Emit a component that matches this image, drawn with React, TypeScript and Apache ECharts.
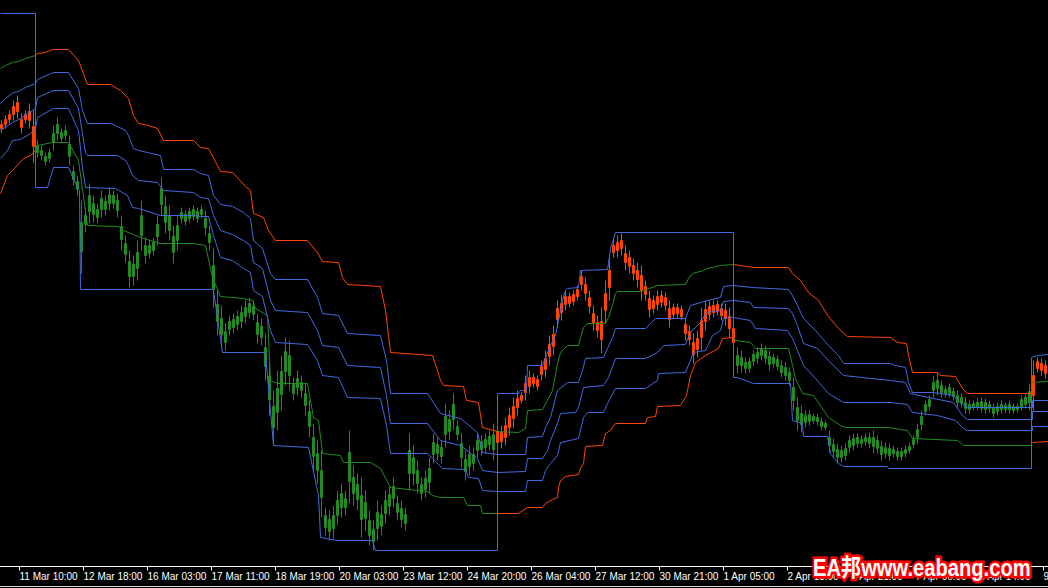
import React, { useEffect, useRef } from "react";
import * as echarts from "echarts";

const ORANGE = "#FF4500";
const GREEN = "#228B22";
const BLUE = "#4169E1";

// x unit: half-hour slot counted from the chart's left edge
const tickSlots = [19, 83, 147, 211, 275, 339, 403, 467, 531, 595, 659, 723, 787, 851, 915, 979, 1043];
const tickLabels = [
  "11 Mar 10:00", "12 Mar 18:00", "16 Mar 03:00", "17 Mar 11:00", "18 Mar 19:00",
  "20 Mar 03:00", "23 Mar 12:00", "24 Mar 20:00", "26 Mar 04:00", "27 Mar 12:00",
  "30 Mar 21:00", "1 Apr 05:00", "2 Apr 13:00", "3 Apr 21:00", "7 Apr 06:00",
  "8 Apr 14:00", "9 Apr 22:00",
];

const firstBarSlot = 1;
const slotsPerBar = 4;

// [open, close, low, high] in points
const bars = [
  [438,442,434,446],[442,447,438,451],[447,452,443,456],[452,460,446,466],[464,455,448,471],
  [439,447,433,453],[447,452,443,456],[455,446,438,463],[440,420,404,456],[421,414,409,426],
  [416,411,406,421],[405,410,401,414],[408,414,404,418],[424,433,416,441],[442,433,426,449],
  [428,434,424,438],[436,431,426,441],[422,410,401,431],[395,387,381,401],[385,377,371,391],
  [344,315,293,366],[342,351,334,359],[371,355,343,383],[363,352,344,371],[349,357,343,363],
  [368,357,349,376],[357,365,351,371],[372,363,356,379],[371,363,358,376],[366,356,349,373],
  [340,327,316,351],[323,312,304,331],[290,305,279,316],[290,302,281,311],[298,314,286,326],
  [351,331,316,366],[311,321,303,329],[313,321,308,326],[316,324,311,329],[330,342,321,351],
  [378,362,351,389],[360,344,333,371],[351,336,326,361],[314,330,303,341],[326,341,316,351],
  [354,348,343,359],[345,352,341,356],[348,355,344,359],[357,350,346,361],[348,355,344,359],
  [357,352,348,361],[348,339,331,356],[333,324,316,341],[301,277,259,319],[262,245,231,276],
  [248,232,219,261],[224,235,216,243],[237,245,231,251],[239,247,233,253],[242,250,236,256],
  [245,254,238,261],[250,259,243,266],[263,254,248,269],[260,252,246,266],[244,232,223,253],
  [240,229,221,248],[219,200,186,233],[190,167,151,206],[139,160,123,176],[154,178,136,196],
  [172,195,156,211],[215,195,181,229],[211,191,176,226],[173,182,166,189],[188,179,171,196],
  [184,176,169,191],[173,161,151,183],[155,140,129,166],[129,110,96,143],[113,96,83,126],
  [96,69,49,116],[51,39,31,59],[35,47,26,56],[38,51,28,61],[51,66,41,76],
  [73,59,49,83],[59,68,51,76],[114,85,63,136],[89,73,61,101],[82,67,56,93],
  [71,47,29,89],[64,48,36,76],[46,31,21,56],[25,37,16,46],[38,54,26,66],
  [40,52,31,61],[53,66,43,76],[60,72,51,81],[80,68,59,89],[63,54,46,71],
  [58,47,39,66],[43,52,36,59],[116,93,76,133],[109,93,81,121],[96,83,73,106],
  [73,82,66,89],[77,88,69,96],[84,98,73,109],[124,112,103,133],[122,113,106,129],
  [110,119,103,126],[150,132,119,163],[135,147,126,156],[162,147,136,173],[140,132,126,146],
  [123,109,99,133],[95,107,86,116],[100,112,91,121],[103,112,96,119],[116,126,109,133],
  [117,125,111,131],[119,127,113,133],[130,122,116,136],[117,132,106,143],[124,135,116,143],
  [125,134,118,141],[129,141,121,149],[139,151,131,159],[148,160,139,169],[159,168,151,176],
  [166,171,163,174],[174,183,166,191],[189,180,173,196],[189,183,179,193],[180,187,176,191],
  [192,200,186,206],[197,208,189,216],[210,222,201,231],[220,232,211,241],[247,258,239,266],
  [254,263,246,271],[270,262,256,276],[263,270,259,274],[265,272,261,276],[270,277,266,281],
  [290,282,276,296],[282,273,266,289],[269,260,253,276],[253,244,236,261],[236,244,229,251],
  [227,245,213,259],[256,273,243,286],[279,296,266,309],[314,321,309,326],[316,324,309,331],
  [326,318,311,333],[313,304,296,321],[309,300,293,316],[301,293,286,308],[296,287,279,304],
  [291,276,266,301],[280,272,266,286],[257,268,249,276],[258,266,253,271],[262,270,256,276],
  [271,264,259,276],[269,261,256,274],[247,258,239,266],[252,259,248,263],[259,253,249,263],
  [257,250,246,261],[242,233,226,249],[235,227,221,241],[212,224,203,233],[217,228,209,236],
  [229,246,216,259],[245,257,236,266],[260,252,246,266],[254,261,249,266],[262,255,251,266],
  [258,251,246,263],[256,248,241,263],[250,238,229,259],[238,224,213,249],[211,201,193,219],
  [209,201,194,216],[198,204,193,209],[198,205,194,209],[205,212,201,216],[208,214,203,219],
  [218,211,206,223],[216,208,203,221],[210,202,196,216],[209,203,199,213],[207,200,196,211],
  [201,194,189,206],[199,191,186,204],[194,186,181,199],[179,166,156,189],[159,146,136,169],
  [142,153,134,161],[144,151,139,156],[152,145,141,156],[150,146,143,153],[149,145,141,153],
  [145,140,136,149],[143,139,136,146],[129,121,114,136],[122,115,109,128],[109,117,103,123],
  [109,116,104,121],[111,118,106,123],[119,126,114,131],[121,128,116,133],[129,123,119,133],
  [123,127,119,131],[125,129,121,133],[129,123,118,134],[129,120,113,136],[126,118,113,131],
  [120,112,106,126],[119,113,108,124],[118,111,106,123],[117,113,109,121],[110,115,106,119],
  [110,115,106,119],[113,117,109,121],[116,120,113,123],[122,127,118,131],[129,137,123,143],
  [142,150,136,156],[155,162,151,166],[160,167,156,171],[176,184,169,191],[186,178,171,193],
  [181,174,169,186],[173,177,169,181],[179,173,169,183],[175,170,166,179],[171,164,159,176],
  [169,163,159,173],[164,158,153,169],[157,162,153,166],[159,163,156,166],[160,164,156,168],
  [165,158,154,169],[164,157,153,168],[162,158,154,166],[153,159,149,163],[155,160,151,164],
  [162,157,153,166],[157,161,154,164],[162,157,153,166],[160,156,153,163],[157,160,154,163],
  [160,167,156,171],[162,169,158,173],[164,175,156,183],[171,191,156,206],[205,198,194,209],
  [203,196,191,208],[201,193,188,206],
];

// bar indexes where the trend flips (first trend is up)
const barTrendSwitches = [9, 124, 184, 258];
const segmentTrends = ["up", "down", "up", "down", "up"];

// outer band lines, one list per trend segment: [slot, points]
const topLine = [
  [[0,498],[5,501],[12,504],[18,505],[25,508],[35,511]],
  [[35,511],[37,513],[45,514],[52,517],[68,517],[78,506],[87,482],[110,482],[120,476],[128,468],[133,451],[138,443],[148,441],[157,438],[163,426],[193,426],[200,419],[208,418],[220,395],[232,394],[245,380],[250,376],[253,353],[263,349],[268,336],[275,326],[307,326],[317,314],[322,305],[338,304],[342,289],[347,282],[380,280],[385,256],[390,214],[432,211],[437,196],[440,186],[443,181],[463,180],[466,166],[478,164],[482,139],[497,135]],
  [[497,135],[518,134],[525,138],[527,156],[542,157],[547,166],[552,176],[557,203],[560,214],[567,221],[578,221],[580,229],[583,239],[587,243],[605,243],[608,249],[612,261],[615,273],[617,275],[640,275],[657,281],[685,282],[688,288],[692,293],[703,296],[707,298],[720,301],[733,302]],
  [[733,302],[753,299],[788,299],[792,293],[800,286],[808,274],[818,266],[828,250],[838,238],[847,230],[890,229],[897,224],[906,223],[908,211],[912,194],[937,194],[940,191],[955,190],[962,178],[967,173],[1032,173]],
  [[1032,184],[1048,185]],
];
const bottomLine = [
  [[0,373],[7,391],[12,396],[23,408],[30,411],[35,416]],
  [[35,416],[37,421],[52,424],[68,424],[78,406],[87,341],[118,340],[123,336],[140,329],[160,323],[193,323],[205,321],[212,289],[220,270],[243,268],[252,266],[255,258],[267,251],[270,186],[277,183],[307,183],[313,149],[318,146],[322,113],[340,111],[343,104],[370,104],[380,98],[390,79],[427,75],[432,71],[440,69],[463,69],[467,61],[480,61],[482,53],[497,53]],
  [[497,53],[518,53],[527,59],[542,59],[545,63],[552,67],[557,69],[558,79],[560,86],[565,90],[578,92],[580,98],[583,103],[585,120],[602,121],[605,133],[610,136],[615,143],[645,143],[647,149],[655,150],[657,160],[680,161],[686,171],[690,191],[695,204],[705,211],[718,218],[722,228],[733,229]],
  [[733,229],[735,226],[750,224],[755,218],[788,218],[792,201],[795,188],[802,173],[813,171],[828,149],[840,141],[845,139],[887,139],[907,136],[912,128],[957,126],[963,121],[1032,121]],
  [[1032,124],[1048,125]],
];

// inner bands
const band1 = [[0,463],[5,468],[13,474],[18,475],[25,479],[35,483],[37,487],[53,494],[68,494],[78,478],[82,456],[87,443],[110,443],[115,441],[125,436],[128,431],[133,418],[138,416],[160,411],[163,397],[193,397],[200,393],[208,391],[213,371],[220,362],[232,360],[243,354],[250,348],[253,326],[262,318],[270,293],[275,287],[307,287],[317,269],[322,253],[338,251],[347,233],[380,231],[386,206],[390,173],[427,173],[440,153],[460,148],[477,134],[482,114],[497,112],[525,112],[527,129],[542,130],[545,139],[550,149],[557,176],[567,184],[578,184],[582,196],[585,208],[603,209],[607,218],[612,229],[615,238],[645,238],[655,248],[685,248],[690,261],[707,266],[720,269],[723,280],[733,281],[752,279],[788,277],[792,271],[797,261],[803,248],[815,236],[828,221],[838,211],[843,203],[890,203],[895,201],[905,199],[908,184],[912,174],[933,174],[953,171],[957,166],[967,159],[1032,159],[1032,166],[1048,166]];
const band2 = [[0,436],[12,444],[20,448],[35,458],[37,469],[53,476],[68,476],[78,458],[82,433],[85,414],[87,411],[117,411],[125,406],[128,401],[132,391],[138,386],[157,384],[163,376],[193,374],[200,369],[208,368],[213,351],[220,336],[232,332],[243,326],[250,321],[253,304],[262,298],[270,266],[275,256],[307,254],[317,236],[322,221],[338,219],[347,201],[380,199],[386,171],[390,143],[427,143],[440,126],[460,121],[477,108],[482,96],[497,94],[525,95],[527,108],[542,108],[547,116],[550,126],[557,143],[560,153],[575,154],[578,159],[583,179],[603,181],[608,189],[615,208],[645,208],[657,214],[663,221],[685,222],[690,234],[700,244],[706,254],[720,256],[723,265],[733,266],[750,264],[753,259],[788,258],[792,253],[797,241],[803,223],[817,218],[828,206],[843,191],[890,186],[905,184],[910,173],[933,168],[953,164],[962,151],[967,147],[1032,147],[1032,155],[1048,155]];
const band3 = [[0,408],[7,416],[12,426],[20,427],[30,433],[35,438],[37,449],[53,458],[68,458],[78,436],[82,399],[85,379],[115,378],[127,371],[132,359],[138,358],[160,351],[193,351],[200,350],[208,350],[213,331],[220,309],[232,306],[243,298],[250,294],[253,276],[262,270],[270,236],[275,224],[307,222],[317,206],[322,191],[338,189],[347,169],[380,168],[386,141],[390,113],[427,113],[432,108],[442,98],[465,97],[468,89],[478,88],[482,76],[497,75],[525,75],[527,86],[542,86],[545,96],[550,103],[557,111],[560,124],[578,128],[583,149],[587,154],[603,154],[607,163],[615,178],[645,178],[657,186],[658,193],[685,194],[693,214],[705,216],[712,231],[720,236],[723,248],[733,249],[750,246],[755,238],[787,236],[792,228],[797,216],[803,201],[815,188],[828,173],[843,164],[890,164],[907,162],[912,154],[937,151],[955,146],[963,138],[967,136],[1032,136],[1032,140],[1048,140]];

// breakout channel (highest high in up-trends, lowest low in down-trends)
const channelLine = [[0,553],[35,553],[35,379],[47,379],[53,399],[68,399],[76,381],[79,376],[80,277],[212,277],[213,276],[222,214],[263,214],[265,213],[273,121],[308,119],[318,71],[320,29],[337,26],[372,26],[375,16],[497,16],[497,173],[518,173],[520,176],[526,176],[527,201],[542,201],[545,209],[550,221],[555,231],[558,246],[562,266],[565,276],[567,278],[578,279],[580,296],[607,297],[608,303],[610,318],[615,334],[733,334],[733,189],[737,189],[753,183],[790,183],[792,146],[802,143],[803,130],[827,130],[830,113],[838,103],[843,100],[887,100],[888,98],[1031,98],[1031,209],[1037,211],[1048,212]];

const trendOfBar = (k: number) => {
  let n = 0;
  for (const s of barTrendSwitches) if (k >= s) n++;
  return n % 2 === 0 ? "up" : "down";
};

const candleSeries = (trend: string, color: string) => ({
  type: "candlestick",
  silent: true,
  barWidth: 2,
  encode: { x: 0, y: [1, 2, 3, 4] },
  itemStyle: { color, color0: color, borderColor: color, borderColor0: color, borderWidth: 1 },
  data: bars
    .map((b, k) => (trendOfBar(k) === trend ? [firstBarSlot + k * slotsPerBar, ...b] : null))
    .filter((d) => d !== null),
  z: 2,
});

const lineSeries = (data: number[][], color: string) => ({
  type: "line",
  silent: true,
  data,
  symbol: "none",
  lineStyle: { color, width: 1 },
  z: 3,
});

export default function App() {
  const ref = useRef<HTMLDivElement>(null);
  useEffect(() => {
    const chart = echarts.init(ref.current!, null, { renderer: "svg" });
    const series: any[] = [candleSeries("up", ORANGE), candleSeries("down", GREEN)];
    segmentTrends.forEach((t, i) => {
      series.push(lineSeries(topLine[i], t === "down" ? ORANGE : GREEN));
      series.push(lineSeries(bottomLine[i], t === "down" ? GREEN : ORANGE));
    });
    series.push(lineSeries(band1, BLUE), lineSeries(band2, BLUE), lineSeries(band3, BLUE));
    series.push(lineSeries(channelLine, BLUE));
    chart.setOption({
      animation: false,
      backgroundColor: "#000000",
      grid: { left: 0.5, top: 0.5, width: 1048, height: 566, outerBoundsMode: "none", containLabel: false },
      xAxis: {
        type: "value",
        min: 0,
        max: 1048,
        axisLine: { show: true, lineStyle: { color: "#ffffff", width: 1 } },
        axisTick: { show: true, customValues: tickSlots, length: 4, lineStyle: { color: "#ffffff" } },
        axisLabel: {
          show: true,
          customValues: tickSlots,
          formatter: (v: number) => tickLabels[tickSlots.indexOf(v)] ?? "",
          color: "#ffffff",
          fontFamily: "Liberation Sans",
          fontSize: 10,
          align: "left",
          margin: 5,
          showMinLabel: true,
          showMaxLabel: true,
          hideOverlap: false,
        },
        splitLine: { show: false },
      },
      yAxis: {
        type: "value",
        min: 0,
        max: 566,
        show: false,
        splitLine: { show: false },
      },
      graphic: [
        { type: "rect", left: 0, top: 586, shape: { width: 1048, height: 1 }, style: { fill: "#d8d8d8" }, silent: true },
        {
          type: "text",
          x: 813,
          y: 556,
          scaleX: 0.84,
          z: 100,
          silent: true,
          style: {
            text: "EA邦www.eabang.com",
            fill: "#ffffff",
            stroke: "#ff0000",
            lineWidth: 5,
            strokeFirst: true,
            fontSize: 24,
            fontWeight: "bold",
            fontFamily: "'Liberation Sans', 'Noto Sans CJK SC', sans-serif",
            textAlign: "left",
            textVerticalAlign: "top",
          },
        },
      ],
      series,
    });
    return () => chart.dispose();
  }, []);
  return (
    <div
      ref={ref}
      style={{ position: "fixed", left: 0, top: 0, width: 1048, height: 588, background: "#000" }}
    />
  );
}
